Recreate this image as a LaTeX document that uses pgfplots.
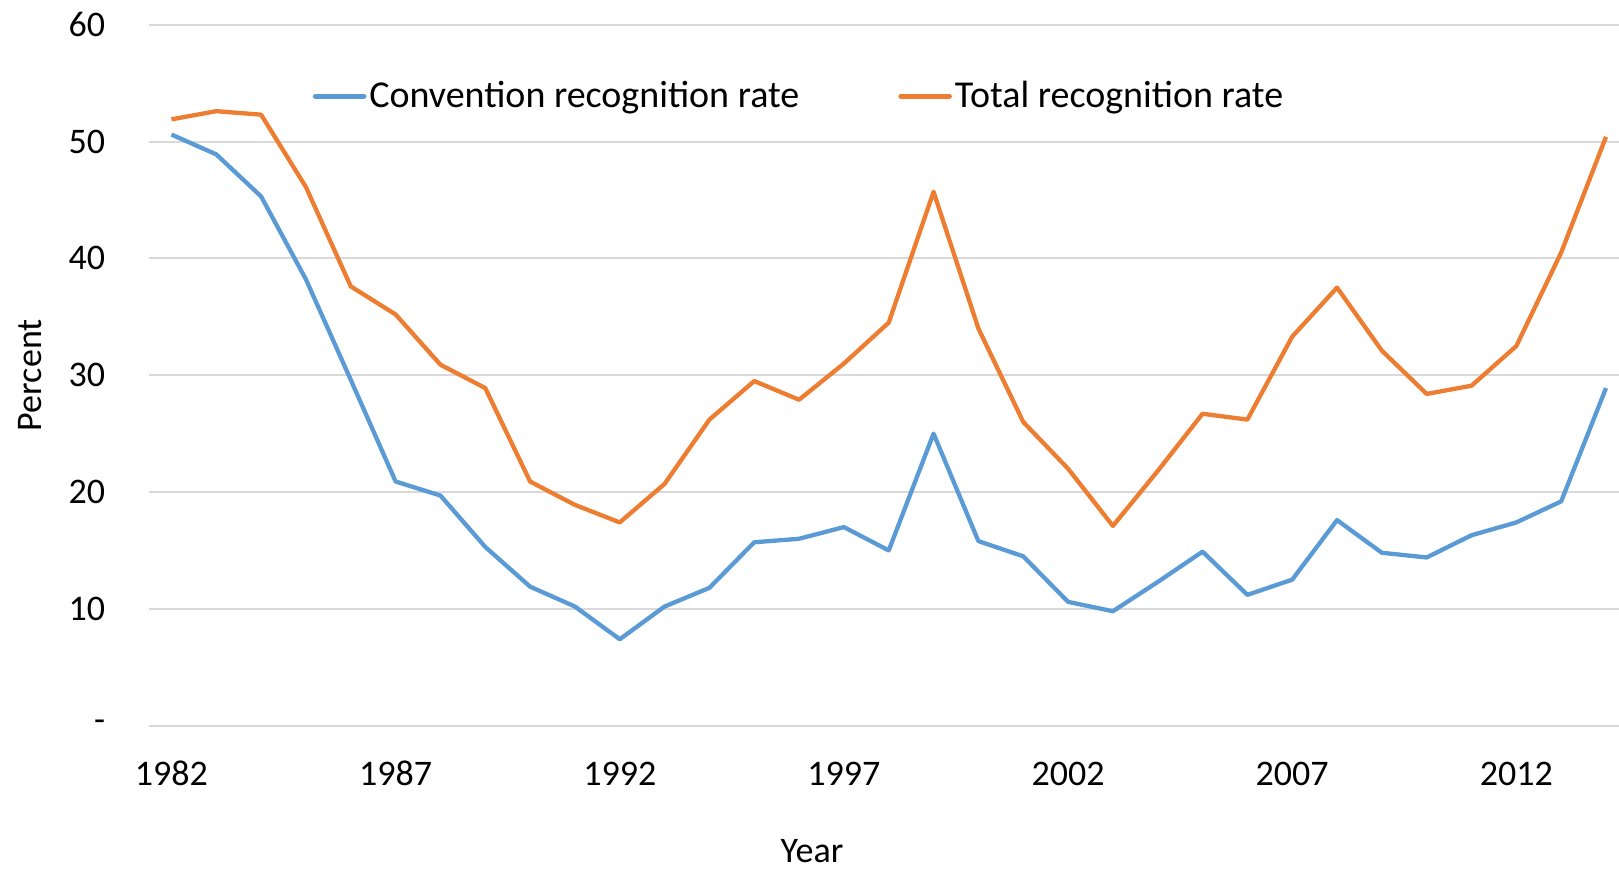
\documentclass[border=0pt]{standalone}
\usepackage{pgfplots}
\pgfplotsset{compat=1.18}
\usepackage{pgfplotstable}
\usepackage{fontspec}
\setmainfont{Carlito}
\definecolor{cblue}{HTML}{5B9BD5}
\definecolor{corange}{HTML}{ED7D31}
\definecolor{cgrid}{HTML}{D9D9D9}
\pgfplotstableread{
year conv total
1982 50.6 51.9
1983 48.9 52.6
1984 45.3 52.3
1985 38.2 46.1
1986 29.6 37.6
1987 20.9 35.2
1988 19.7 30.9
1989 15.3 28.9
1990 11.9 20.9
1991 10.2 18.9
1992 7.4 17.4
1993 10.2 20.7
1994 11.8 26.2
1995 15.7 29.5
1996 16.0 27.9
1997 17.0 31.0
1998 15.0 34.5
1999 25.0 45.7
2000 15.8 34.0
2001 14.5 26.0
2002 10.6 22.0
2003 9.8 17.1
2004 12.3 21.8
2005 14.9 26.7
2006 11.2 26.2
2007 12.5 33.3
2008 17.6 37.5
2009 14.8 32.1
2010 14.4 28.4
2011 16.3 29.1
2012 17.4 32.5
2013 19.2 40.5
2014 28.9 50.4
}\datatable
\begin{document}
\begin{tikzpicture}
\begin{axis}[
  at={(74.75pt,71.65pt)}, anchor=south west,
  scale only axis, width=734.75pt, height=350.5pt,
  xmin=1981.51, xmax=2014.29, ymin=0, ymax=60,
  axis line style={draw=none},
  major tick length=0pt,
  xtick={1982,1987,1992,1997,2002,2007,2012},
  xticklabels={1982,1987,1992,1997,2002,2007,2012},
  ytick={0,10,20,30,40,50,60},
  yticklabels={-,10,20,30,40,50,60},
  ymajorgrids, grid style={cgrid, line width=1pt},
  xticklabel style={anchor=base, yshift=-29.65pt, inner sep=0pt, font=\fontsize{18}{21.6}\selectfont},
  yticklabel style={anchor=east, xshift=-22pt, inner sep=0pt, font=\fontsize{18}{21.6}\selectfont},
  xlabel={Year},
  ylabel={Percent},
  xlabel style={at={(rel axis cs:0.4508,-0.1795)}, anchor=center, inner sep=0pt, font=\fontsize{18}{21.6}\selectfont},
  ylabel style={at={(rel axis cs:-0.08105,0.5)}, anchor=center, inner sep=0pt, font=\fontsize{18}{21.6}\selectfont},
  legend style={at={(rel axis cs:0.1109,0.8983)}, anchor=west, draw=none, fill=none,
    inner sep=0pt, font=\fontsize{19}{22.8}\selectfont,
    nodes={inner sep=1.5pt},
    /tikz/every even column/.append style={column sep=48pt}},
  legend columns=2,
  legend cell align=left,
  legend image code/.code={\draw[#1, line width=2.5pt, line cap=round] (1.25pt,0pt) -- (25.5pt,0pt);},
]
\addplot[cblue, line width=2.15pt, line join=round] table[x=year, y=conv] {\datatable};
\addlegendentry{Convention recognition rate}
\addplot[corange, line width=2.15pt, line join=round] table[x=year, y=total] {\datatable};
\addlegendentry{Total recognition rate}
\end{axis}
\pgfresetboundingbox
\useasboundingbox (0,0) rectangle (809.5pt,434.5pt);
\end{tikzpicture}
\end{document}
